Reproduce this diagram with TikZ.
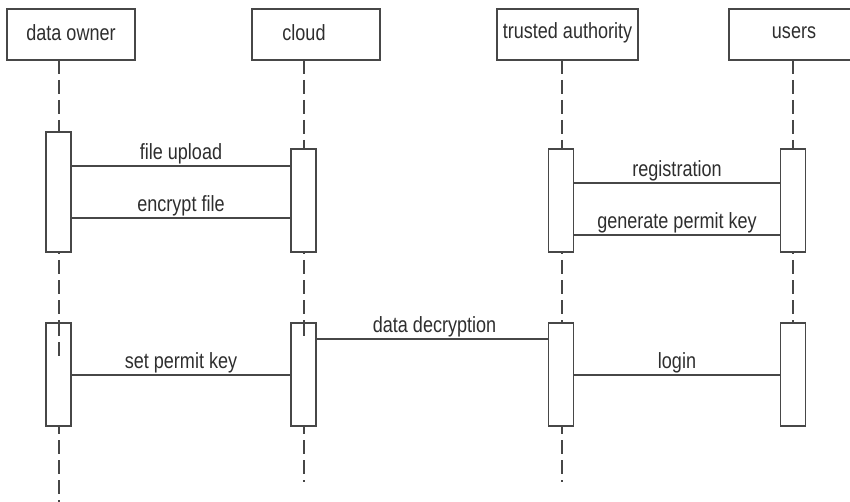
\documentclass[tikz,border=0pt]{standalone}
\usepackage{fontspec}
\setmainfont{Liberation Sans}
\newfontfamily\lab[FakeStretch=0.82]{Liberation Sans}
\begin{document}
\begin{tikzpicture}[x=1pt,y=-1pt,
  ln/.style={draw=black!72,line width=1.6pt},
  txt/.style={font=\lab\fontsize{22}{24}\selectfont,text=black!82},
  head/.style={ln,rectangle,inner sep=0pt,minimum height=51pt},
  act/.style={ln,rectangle,fill=white,inner sep=0pt,minimum width=25pt,anchor=north},
  life/.style={draw=black!72,line width=1.4pt,dash pattern=on 14pt off 6pt},
  msg/.style={draw=black!72,line width=1.6pt},
  mlab/.style={txt,inner sep=1pt,anchor=south}]
\useasboundingbox (0,0) rectangle (850,502);
\clip (0,0) rectangle (850,502);

% participants
\node[head,minimum width=128pt] (own) at (71,34.5) {};
\node[txt] (ownT) at (71,33) {data owner};
\node[head,minimum width=128pt] (cld) at (316,34.5) {};
\node[txt] (cldT) at (304,33) {cloud};
\node[head,minimum width=141pt] (ta) at (567.5,34.5) {};
\node[txt] (taT) at (567.5,33) {trusted authority};
\node[head,minimum width=130pt] (usr) at (794,34.5) {};
\node[txt] (usrT) at (794,33) {users};

% lifelines
\coordinate (ownEnd) at (59,502);
\coordinate (cldEnd) at (304,482);
\coordinate (taEnd) at (562,482);
\coordinate (usrEnd) at (793,322);
\draw[life] (59,60) -- (ownEnd);
\draw[life] (304,60) -- (cldEnd);
\draw[life] (562,60) -- (taEnd);
\draw[life] (793,60) -- (usrEnd);

% activation bars, first phase
\node[act,minimum height=120pt] (own1) at (58.5,131) {};
\node[act,minimum height=103pt] (cld1) at (303.5,148) {};
\node[act,minimum height=103pt] (ta1) at (561,148) {};
\node[act,minimum height=103pt] (usr1) at (793,148) {};

% activation bars, second phase
\node[act,minimum height=103pt] (own2) at (58.5,322) {};
\node[act,minimum height=103pt] (cld2) at (303.5,322) {};
\node[act,minimum height=103pt] (ta2) at (561,322) {};
\node[act,minimum height=103pt] (usr2) at (793,322) {};
\draw[life] (59,322) -- (59,358);
\draw[life] (304,322) -- (304,336);

% messages
\draw[msg] (own1.east |- 0,166) -- node[mlab,pos=0.5] {file upload} (cld1.west |- 0,166);
\draw[msg] (own1.east |- 0,218) -- node[mlab,pos=0.5] {encrypt file} (cld1.west |- 0,218);
\draw[msg] (ta1.east |- 0,183) -- node[mlab,pos=0.5] {registration} (usr1.west |- 0,183);
\draw[msg] (ta1.east |- 0,235) -- node[mlab,pos=0.5] {generate permit key} (usr1.west |- 0,235);
\draw[msg] (cld2.east |- 0,339) -- node[mlab,pos=0.51] {data decryption} (ta2.west |- 0,339);
\draw[msg] (own2.east |- 0,375) -- node[mlab,pos=0.5] {set permit key} (cld2.west |- 0,375);
\draw[msg] (ta2.east |- 0,375) -- node[mlab,pos=0.5] {login} (usr2.west |- 0,375);
\end{tikzpicture}
\end{document}
